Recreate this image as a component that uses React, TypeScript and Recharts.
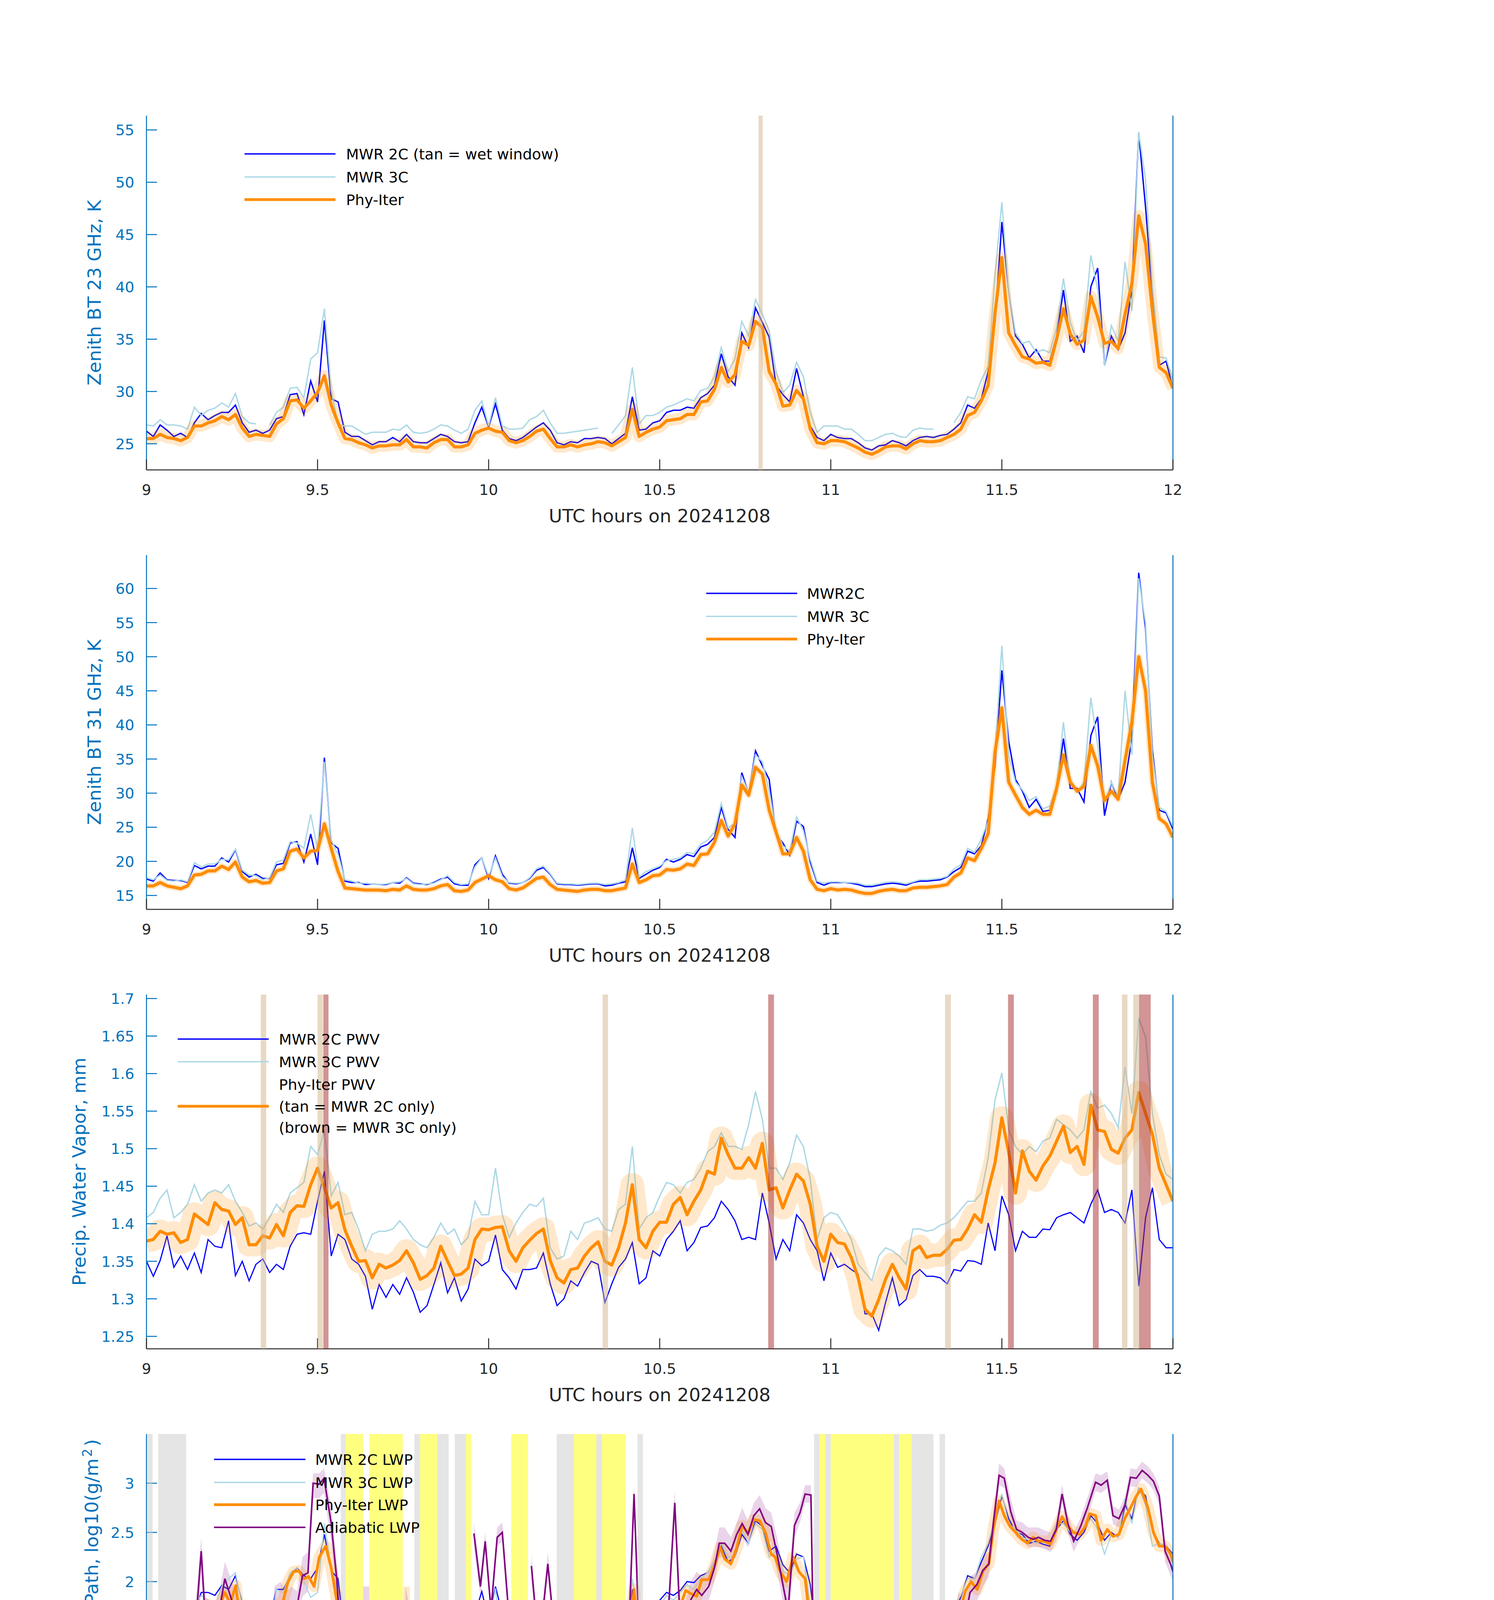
import React from 'react';
import {
  ComposedChart, Line, Area, Scatter, XAxis, YAxis, ReferenceArea, ReferenceLine, Legend,
} from 'recharts';

// ---------------- layout constants ----------------
const W = 3825;
const X0 = 375;
const X1 = 3003;
const MT = 40;
const PLOT_H = 907;
const MB = 160;
const CH = MT + PLOT_H + MB;
const AXIS_Y = MT + PLOT_H;
const PANEL_TOPS = [296, 1421, 2546, 3671, 4796];

const BLUE = '#0000FF';
const LIGHT = '#ADD8E6';
const ORANGE = '#FF8C00';
const PURPLE = '#800080';
const AXIS_BLUE = '#0072BD';
const DARK = '#262626';
const FONT = "'DejaVu Sans', sans-serif";

// ---------------- data ----------------
const X_TICKS = [9, 9.5, 10, 10.5, 11, 11.5, 12];
// 0.02 h sample grid, 9.00 .. 12.00
const TIME: number[] = Array.from({ length: 151 }, (_, i) => (900 + i * 2) / 100);

// Panel 1: zenith BT 23 GHz (K)
const BT23_2C = [
  26.2, 25.7, 26.8, 26.3, 25.7, 26.0, 25.6, 27.0, 27.9, 27.3,
  27.7, 28.0, 28.0, 28.7, 27.0, 26.1, 26.3, 26.0, 26.3, 27.4,
  27.6, 29.7, 29.8, 27.8, 31.0, 29.0, 36.8, 29.3, 29.0, 26.1,
  25.7, 25.7, 25.3, 24.9, 25.2, 25.2, 25.6, 25.2, 25.9, 25.2,
  25.1, 25.1, 25.5, 25.9, 25.7, 25.2, 25.1, 25.2, 27.0, 28.5,
  26.6, 28.8, 26.3, 25.5, 25.3, 25.6, 26.1, 26.6, 27.0, 26.3,
  25.1, 24.9, 25.2, 25.1, 25.5, 25.5, 25.6, 25.5, 25.0, 25.5,
  26.0, 29.5, 26.3, 26.4, 27.0, 27.2, 28.0, 28.2, 28.2, 28.5,
  28.4, 29.4, 29.8, 30.6, 33.6, 31.4, 30.6, 35.6, 34.2, 38.0,
  36.6, 35.2, 30.6, 29.7, 29.0, 32.2, 29.5, 26.7, 25.6, 25.3,
  25.9, 25.6, 25.5, 25.5, 25.1, 24.6, 24.4, 24.8, 24.9, 25.3,
  25.1, 24.8, 25.3, 25.6, 25.7, 25.6, 25.8, 25.9, 26.4, 27.0,
  28.7, 28.4, 29.3, 31.9, 36.6, 46.2, 39.5, 35.3, 34.5, 33.2,
  34.0, 32.9, 32.9, 35.3, 39.7, 34.8, 35.3, 33.7, 40.0, 41.8,
  32.5, 35.3, 34.0, 35.6, 39.7, 54.7, 47.6, 39.2, 32.5, 32.9,
  30.3,
];
const BT23_3C = [
  26.8, 26.7, 27.3, 26.8, 26.8, 26.7, 26.4, 28.5, 27.7, 28.2,
  28.4, 28.9, 28.5, 29.8, 27.6, 27.0, 26.9, null, 26.8, 28.0,
  28.5, 30.3, 30.4, 29.4, 33.1, 33.7, 37.9, 30.1, 26.8, 26.7,
  26.7, 26.3, 25.9, 26.1, 26.1, 26.1, 26.4, 26.3, 26.8, 26.1,
  26.0, 26.1, 26.4, 26.8, 26.7, 26.3, 26.0, 26.4, 28.2, 29.1,
  26.7, 29.4, 26.7, 26.4, 26.4, 26.5, 27.3, 27.6, 28.2, 27.0,
  26.0, 26.0, 26.1, 26.2, 26.3, 26.4, 26.5, null, 26.0, 26.8,
  27.7, 32.3, 26.9, 27.7, 27.7, 28.0, 28.5, 28.7, 29.0, 29.3,
  29.1, 30.1, 30.3, 31.4, 34.2, 31.9, 33.1, 36.7, 35.3, 38.8,
  37.4, 35.8, 31.9, 29.9, 30.6, 32.8, 31.4, 28.0, 26.1, 26.7,
  26.7, 26.7, 26.4, 26.4, 25.9, 25.3, 25.3, 25.6, 25.9, 26.0,
  25.7, 25.6, 26.3, 26.5, 26.4, 26.4, null, null, 27.0, 28.0,
  29.5, 29.3, 31.1, 32.4, 41.1, 48.1, 39.5, 35.6, 34.6, 34.8,
  33.7, 34.0, 33.7, 36.1, 40.8, 36.6, 34.8, 35.8, 43.0, 39.8,
  32.5, 36.3, 34.8, 42.4, 37.7, 54.8, 50.2, 40.0, 33.3, 33.2,
  31.1,
];
const BT23_PHY = [
  25.5, 25.5, 25.9, 25.6, 25.5, 25.3, 25.6, 26.7, 26.7, 27.0,
  27.2, 27.6, 27.3, 27.8, 26.5, 25.7, 25.9, 25.8, 25.7, 26.9,
  27.4, 29.1, 29.2, 28.4, 29.1, 29.9, 31.5, 28.7, 27.0, 25.5,
  25.4, 25.1, 24.9, 24.6, 24.8, 24.8, 24.9, 24.9, 25.4, 24.7,
  24.7, 24.6, 25.1, 25.4, 25.4, 24.7, 24.7, 24.9, 26.0, 26.3,
  26.5, 26.2, 26.1, 25.3, 25.1, 25.3, 25.7, 26.2, 26.4, 25.5,
  24.7, 24.7, 24.9, 24.7, 24.9, 25.0, 25.2, 25.1, 24.8, 25.2,
  25.6, 28.3, 25.7, 26.1, 26.4, 26.6, 27.2, 27.3, 27.4, 27.8,
  27.8, 29.0, 29.1, 30.2, 32.3, 30.9, 31.6, 34.8, 34.4, 36.7,
  36.1, 31.9, 30.7, 28.6, 28.7, 30.1, 29.3, 26.4, 25.1, 25.0,
  25.3, 25.3, 25.2, 24.9, 24.6, 24.2, 24.0, 24.3, 24.7, 24.8,
  24.8, 24.5, 25.0, 25.3, 25.2, 25.2, 25.3, 25.6, 25.9, 26.4,
  27.7, 28.0, 29.1, 30.6, 37.5, 42.8, 35.6, 34.4, 33.3, 33.1,
  32.7, 32.8, 32.5, 35.0, 37.9, 35.5, 34.5, 34.9, 39.1, 37.1,
  34.6, 34.8, 34.1, 37.4, 40.3, 46.8, 44.1, 37.7, 32.3, 31.8,
  30.3,
];

// Panel 2: zenith BT 31 GHz (K)
const BT31_2C = [
  17.4, 17.1, 18.3, 17.3, 17.2, 17.2, 16.9, 19.4, 18.9, 19.3,
  19.3, 20.5, 19.9, 21.7, 18.5, 17.7, 18.1, 17.5, 17.5, 19.5,
  19.7, 22.7, 22.9, 19.9, 24.0, 19.5, 35.2, 22.7, 21.9, 17.1,
  16.9, 16.9, 16.6, 16.7, 16.6, 16.6, 16.9, 16.8, 17.6, 16.8,
  16.7, 16.6, 16.9, 17.4, 17.7, 16.7, 16.5, 16.5, 19.5, 20.5,
  17.5, 20.8, 18.1, 16.8, 16.7, 16.9, 17.5, 18.7, 19.1, 18.1,
  16.7, 16.6, 16.6, 16.5, 16.6, 16.7, 16.7, 16.4, 16.5, 16.8,
  17.0, 22.0, 17.5, 18.1, 18.7, 19.1, 20.3, 19.9, 20.3, 21.0,
  20.7, 22.1, 22.5, 23.5, 27.9, 24.7, 23.5, 33.0, 29.9, 36.2,
  34.0, 32.0, 23.9, 22.7, 20.9, 25.9, 25.1, 19.9, 16.9, 16.5,
  16.9, 16.9, 16.9, 16.8, 16.6, 16.3, 16.3, 16.5, 16.7, 16.8,
  16.7, 16.5, 16.9, 17.1, 17.1, 17.2, 17.3, 17.7, 18.5, 19.1,
  21.5, 21.1, 22.3, 26.3, 34.0, 48.0, 37.6, 32.0, 30.3, 27.9,
  29.1, 27.3, 27.5, 30.7, 38.0, 30.7, 30.7, 28.7, 38.4, 41.2,
  26.7, 31.6, 29.1, 31.6, 38.0, 62.3, 54.1, 36.4, 27.5, 27.1,
  24.7,
];
const BT31_3C = [
  17.6, 17.3, 18.0, 17.2, 17.1, 17.3, 17.0, 19.8, 19.2, 19.6,
  19.6, 20.3, 20.2, 21.8, 18.7, 18.0, 17.9, 17.3, 17.6, 19.9,
  20.2, 22.9, 22.7, 21.9, 26.9, 21.8, 34.6, 23.1, 21.0, 17.3,
  17.1, 16.8, 16.8, 16.7, 16.6, 16.7, 16.9, 17.0, 17.5, 16.7,
  16.6, 16.7, 16.8, 17.3, 17.9, 16.9, 16.6, 16.7, 19.2, 20.5,
  17.8, 20.5, 17.8, 16.9, 16.8, 16.9, 17.6, 18.9, 19.3, 18.2,
  16.8, 16.7, 16.7, 16.6, 16.7, 16.8, 16.8, 16.6, 16.7, 16.9,
  17.3, 24.9, 17.7, 18.5, 18.9, 19.3, 20.1, 20.3, 20.5, 21.3,
  21.1, 22.5, 23.1, 24.3, 28.5, 24.9, 25.6, 32.4, 30.1, 35.6,
  34.6, 30.4, 24.5, 22.3, 21.5, 26.5, 24.5, 20.3, 17.1, 16.8,
  17.0, 17.0, 16.9, 16.9, 16.8, 16.5, 16.5, 16.7, 16.9, 17.0,
  16.9, 16.7, 17.0, 17.3, 17.3, 17.4, 17.5, 17.8, 18.9, 19.5,
  21.9, 21.3, 23.3, 25.9, 36.0, 51.6, 35.6, 31.6, 30.5, 28.9,
  29.5, 27.7, 28.1, 31.0, 40.4, 31.5, 30.1, 31.6, 44.0, 37.0,
  28.5, 31.6, 29.5, 45.0, 35.6, 61.5, 54.9, 35.6, 27.9, 27.3,
  25.1,
];
const BT31_PHY = [
  16.4, 16.4, 16.9, 16.4, 16.2, 16.0, 16.4, 18.0, 18.1, 18.6,
  18.6, 19.3, 18.8, 19.9, 17.7, 17.0, 17.2, 16.8, 16.9, 18.6,
  18.9, 21.5, 21.8, 20.5, 21.5, 21.6, 25.5, 21.9, 18.5, 16.1,
  16.0, 15.9, 15.8, 15.8, 15.8, 15.7, 15.9, 15.8, 16.4, 15.9,
  15.8, 15.8, 16.0, 16.4, 16.6, 15.7, 15.6, 15.8, 16.9, 17.4,
  17.9, 17.3, 17.0, 16.0, 15.8, 16.1, 16.8, 17.5, 17.7, 16.6,
  15.9, 15.8, 15.7, 15.6, 15.8, 15.9, 15.9, 15.7, 15.7, 15.9,
  16.1, 19.6, 16.9, 17.3, 17.9, 18.0, 18.8, 18.7, 18.9, 19.6,
  19.4, 21.0, 21.1, 22.8, 26.0, 23.7, 25.5, 31.2, 29.7, 33.8,
  32.8, 27.5, 24.3, 21.1, 21.1, 23.5, 21.5, 17.3, 15.9, 15.7,
  16.0, 15.8, 15.9, 15.8, 15.5, 15.3, 15.3, 15.6, 15.8, 15.9,
  15.7, 15.7, 16.1, 16.2, 16.2, 16.3, 16.4, 16.6, 17.7, 18.3,
  20.5, 20.1, 21.9, 24.1, 36.0, 42.5, 31.6, 29.7, 27.9, 26.9,
  27.5, 26.9, 26.9, 30.7, 35.6, 31.6, 30.3, 31.0, 37.0, 34.0,
  28.9, 30.3, 29.1, 34.8, 40.4, 50.0, 45.0, 31.6, 26.3, 25.5,
  23.5,
];

// Panel 3: precipitable water vapour (mm)
const PWV_2C = [
  1.350, 1.330, 1.351, 1.384, 1.342, 1.357, 1.339, 1.361, 1.335, 1.379,
  1.370, 1.368, 1.404, 1.331, 1.350, 1.324, 1.346, 1.353, 1.335, 1.346,
  1.339, 1.370, 1.386, 1.388, 1.386, 1.430, 1.470, 1.357, 1.386, 1.379,
  1.353, 1.346, 1.330, 1.286, 1.319, 1.302, 1.319, 1.306, 1.328, 1.309,
  1.282, 1.291, 1.319, 1.348, 1.308, 1.328, 1.297, 1.313, 1.353, 1.344,
  1.350, 1.385, 1.339, 1.328, 1.313, 1.339, 1.339, 1.341, 1.361, 1.320,
  1.291, 1.300, 1.324, 1.317, 1.335, 1.350, 1.346, 1.295, 1.320, 1.342,
  1.353, 1.375, 1.320, 1.328, 1.364, 1.357, 1.379, 1.390, 1.404, 1.364,
  1.375, 1.395, 1.397, 1.408, 1.430, 1.419, 1.404, 1.379, 1.382, 1.379,
  1.441, 1.401, 1.353, 1.379, 1.364, 1.412, 1.401, 1.379, 1.364, 1.324,
  1.361, 1.342, 1.346, 1.339, 1.333, 1.280, 1.280, 1.258, 1.295, 1.328,
  1.291, 1.299, 1.331, 1.339, 1.330, 1.330, 1.328, 1.320, 1.339, 1.337,
  1.351, 1.350, 1.346, 1.401, 1.364, 1.437, 1.412, 1.364, 1.390, 1.382,
  1.382, 1.393, 1.392, 1.408, 1.412, 1.415, 1.408, 1.401, 1.426, 1.445,
  1.415, 1.419, 1.415, 1.401, 1.445, 1.317, 1.408, 1.448, 1.379, 1.368,
  1.368,
];
const PWV_3C = [
  1.408, 1.415, 1.434, 1.445, 1.408, 1.415, 1.426, 1.452, 1.430, 1.441,
  1.445, 1.441, 1.452, 1.430, 1.415, 1.397, 1.401, 1.393, 1.408, 1.426,
  1.415, 1.441, 1.448, 1.455, 1.503, 1.492, 1.525, 1.437, 1.455, 1.412,
  1.415, 1.393, 1.364, 1.386, 1.390, 1.390, 1.393, 1.404, 1.393, 1.379,
  1.372, 1.368, 1.382, 1.401, 1.386, 1.393, 1.372, 1.382, 1.430, 1.412,
  1.412, 1.474, 1.412, 1.382, 1.401, 1.415, 1.426, 1.423, 1.434, 1.368,
  1.353, 1.357, 1.390, 1.379, 1.401, 1.404, 1.408, 1.393, 1.390, 1.419,
  1.426, 1.503, 1.393, 1.408, 1.415, 1.437, 1.455, 1.452, 1.441, 1.455,
  1.459, 1.474, 1.496, 1.503, 1.521, 1.503, 1.503, 1.499, 1.532, 1.576,
  1.539, 1.474, 1.474, 1.459, 1.481, 1.518, 1.503, 1.459, 1.379, 1.408,
  1.415, 1.412, 1.397, 1.379, 1.346, 1.335, 1.324, 1.357, 1.368, 1.364,
  1.357, 1.346, 1.393, 1.393, 1.390, 1.392, 1.398, 1.401, 1.408, 1.419,
  1.430, 1.430, 1.441, 1.488, 1.565, 1.601, 1.525, 1.503, 1.492, 1.503,
  1.496, 1.510, 1.514, 1.539, 1.532, 1.525, 1.514, 1.525, 1.576, 1.554,
  1.558, 1.547, 1.528, 1.609, 1.547, 1.674, 1.649, 1.547, 1.492, 1.466,
  1.459,
];
const PWV_PHY = [
  1.377, 1.379, 1.390, 1.386, 1.388, 1.375, 1.379, 1.413, 1.406, 1.399,
  1.428, 1.419, 1.417, 1.399, 1.408, 1.372, 1.372, 1.384, 1.381, 1.399,
  1.384, 1.415, 1.424, 1.423, 1.452, 1.474, 1.448, 1.421, 1.428, 1.392,
  1.370, 1.350, 1.351, 1.328, 1.346, 1.341, 1.345, 1.351, 1.364, 1.348,
  1.326, 1.331, 1.341, 1.370, 1.350, 1.331, 1.333, 1.341, 1.379, 1.393,
  1.392, 1.395, 1.396, 1.364, 1.350, 1.368, 1.378, 1.387, 1.393, 1.351,
  1.328, 1.321, 1.339, 1.341, 1.357, 1.368, 1.376, 1.350, 1.345, 1.368,
  1.401, 1.452, 1.379, 1.368, 1.390, 1.402, 1.402, 1.426, 1.435, 1.412,
  1.430, 1.445, 1.470, 1.466, 1.514, 1.492, 1.474, 1.474, 1.488, 1.474,
  1.507, 1.445, 1.448, 1.421, 1.445, 1.466, 1.457, 1.426, 1.370, 1.350,
  1.386, 1.375, 1.373, 1.355, 1.328, 1.286, 1.277, 1.299, 1.326, 1.346,
  1.328, 1.313, 1.364, 1.370, 1.355, 1.358, 1.358, 1.366, 1.378, 1.379,
  1.393, 1.412, 1.402, 1.445, 1.481, 1.541, 1.495, 1.441, 1.497, 1.470,
  1.458, 1.477, 1.490, 1.510, 1.530, 1.495, 1.503, 1.479, 1.558, 1.525,
  1.523, 1.499, 1.494, 1.514, 1.525, 1.575, 1.547, 1.519, 1.474, 1.452,
  1.430,
];

// Panel 4: log10 LWP
const LWP_2C = [
  1.61, 1.50, 1.75, 1.42, 1.50, 1.47, 1.32, 1.67, 1.89, 1.89,
  1.86, 1.96, 1.92, 2.06, 1.78, 1.67, 1.72, 1.60, 1.60, 1.92,
  1.92, 2.06, 2.14, 2.06, 2.03, 2.14, 2.48, 2.11, 2.03, 1.42,
  1.45, 1.50, 1.53, 1.47, 1.42, 1.46, 1.39, 1.46, 1.58, 1.45,
  1.47, 1.43, 1.47, 1.50, 1.64, 1.63, 1.47, 1.42, 1.67, 1.90,
  1.61, 1.95, 1.67, 1.47, 1.45, 1.42, 1.67, 1.78, 1.81, 1.61,
  1.42, 1.42, 1.40, 1.36, 1.42, 1.39, 1.39, 1.36, 1.43, 1.39,
  1.47, 1.92, 1.70, 1.72, 1.78, 1.81, 1.89, 1.86, 1.91, 2.00,
  1.99, 2.06, 2.09, 2.20, 2.36, 2.20, 2.25, 2.48, 2.39, 2.62,
  2.56, 2.31, 2.36, 2.17, 2.09, 2.28, 2.25, 1.97, 1.39, 1.42,
  1.46, 1.43, 1.46, 1.45, 1.45, 1.39, 1.33, 1.39, 1.47, 1.47,
  1.42, 1.39, 1.47, 1.50, 1.57, 1.50, 1.56, 1.65, 1.70, 1.84,
  2.06, 2.03, 2.20, 2.36, 2.59, 2.87, 2.64, 2.50, 2.48, 2.39,
  2.41, 2.38, 2.36, 2.53, 2.62, 2.48, 2.42, 2.50, 2.67, 2.59,
  2.42, 2.50, 2.45, 2.78, 2.64, 2.95, 2.87, 2.53, 2.39, 2.36,
  2.28,
];
const LWP_3C = [
  1.42, 1.31, 1.33, 1.28, 1.25, 1.19, 1.25, 1.75, 1.86, 1.81,
  1.75, 1.95, 2.03, 2.09, 1.75, 1.58, 1.47, 1.39, 1.47, 1.92,
  1.89, 2.09, 2.14, 2.00, 1.84, 1.89, 2.59, 2.14, 1.89, 1.17,
  1.17, 1.11, 1.08, 1.03, 1.06, 1.08, 1.08, 1.14, 1.19, 1.06,
  1.03, 1.06, 1.06, 1.17, 1.28, 1.19, 1.08, 1.08, 1.58, 1.78,
  1.53, 1.93, 1.25, 1.11, 1.08, 1.14, 1.67, 1.75, 1.78, 1.53,
  1.19, 1.11, 1.06, 1.06, 1.03, 1.06, 1.08, null, 0.94, 1.14,
  1.25, 2.03, 1.58, 1.64, 1.75, 1.75, 1.86, 1.81, 1.89, 1.97,
  1.92, 2.03, 2.09, 2.20, 2.39, 2.25, 2.25, 2.53, 2.39, 2.59,
  2.53, 2.25, 2.31, 2.11, 2.06, 2.23, 2.25, 1.75, 1.06, 1.03,
  1.14, 1.11, 1.14, 1.11, 1.06, 0.86, 0.89, 0.97, 1.06, 1.11,
  1.03, 1.14, 1.25, 1.28, 1.31, 1.33, 1.50, 1.64, 1.75, 1.86,
  2.03, 2.03, 2.25, 2.39, 2.64, 2.89, 2.59, 2.53, 2.45, 2.42,
  2.39, 2.42, 2.39, 2.59, 2.59, 2.50, 2.48, 2.53, 2.64, 2.53,
  2.28, 2.48, 2.45, 2.84, 2.59, 2.95, 2.78, 2.36, 2.39, 2.36,
  2.25,
];
// [time, value]; null = gap, -1 = drops below the axis
const LWP_PHY: [number, number | null][] = [
  [9.000, 0.89], [9.010, 0.78], [9.020, 0.81], [9.030, 0.86], [9.043, 1.25], [9.060, 1.03], [9.066, -1], [9.090, -1],
  [9.093, 0.69], [9.097, -1], [9.120, -1], [9.128, 1.11], [9.140, 1.58], [9.160, 1.61], [9.177, 1.77], [9.208, 1.71],
  [9.229, 1.89], [9.245, 1.78], [9.261, 1.96], [9.277, 1.53], [9.291, 1.47], [9.309, 1.08], [9.327, 1.45], [9.340, 1.14],
  [9.356, 1.17], [9.377, 1.75], [9.400, 1.81], [9.414, 2.00], [9.430, 2.10], [9.445, 2.11], [9.460, 2.03], [9.474, 2.05],
  [9.490, 1.95], [9.505, 2.25], [9.524, 2.36], [9.540, 2.14], [9.556, 1.81], [9.572, -1], [9.600, null],
  [9.757, 1.03], [9.767, -1], [9.800, null],
  [9.857, 0.72], [9.872, 1.31], [9.888, 1.17], [9.897, -1], [9.920, null],
  [9.957, 1.25], [9.978, 1.47], [9.990, 1.58], [10.008, -1], [10.016, -1], [10.025, 1.39], [10.040, 1.28], [10.048, -1], [10.080, null],
  [10.120, 1.28], [10.135, 1.42], [10.150, 1.56], [10.170, 1.39], [10.190, 1.08], [10.196, -1], [10.300, null],
  [10.404, -1], [10.406, 1.25], [10.425, 1.92], [10.440, 1.33], [10.460, 1.47], [10.476, 1.57], [10.493, 1.60], [10.510, 1.64],
  [10.525, 1.75], [10.544, 1.71], [10.560, 1.75], [10.576, 1.91], [10.590, 1.88], [10.608, 1.85], [10.623, 2.02], [10.643, 2.02],
  [10.660, 2.16], [10.677, 2.35], [10.690, 2.23], [10.708, 2.18], [10.725, 2.34], [10.741, 2.57], [10.758, 2.49], [10.775, 2.63],
  [10.792, 2.62], [10.809, 2.50], [10.826, 2.28], [10.837, 2.25], [10.854, 2.09], [10.871, 2.00], [10.890, 2.25], [10.907, 2.10],
  [10.925, 2.03], [10.942, 1.53], [10.956, -1], [11.100, null],
  [11.257, -1], [11.259, 0.50], [11.275, 0.86], [11.292, 0.78], [11.306, 0.94], [11.323, 1.08], [11.340, 1.28], [11.357, 1.47],
  [11.377, 1.70], [11.394, 1.91], [11.410, 2.00], [11.428, 1.92], [11.445, 2.11], [11.462, 2.18], [11.475, 2.53], [11.492, 2.82],
  [11.507, 2.67], [11.524, 2.56], [11.540, 2.50], [11.558, 2.43], [11.575, 2.39], [11.592, 2.45], [11.607, 2.41], [11.625, 2.41],
  [11.642, 2.38], [11.659, 2.53], [11.676, 2.66], [11.693, 2.56], [11.710, 2.50], [11.727, 2.48], [11.744, 2.56], [11.757, 2.69],
  [11.774, 2.67], [11.790, 2.42], [11.808, 2.53], [11.825, 2.46], [11.842, 2.48], [11.859, 2.64], [11.876, 2.75], [11.893, 2.87],
  [11.907, 2.94], [11.927, 2.75], [11.943, 2.50], [11.960, 2.36], [11.977, 2.36], [11.994, 2.28], [12.000, 2.20],
];
// [time, low, high] uncertainty of Phy-Iter LWP in clear-sky columns
const LWP_PHY_BAND: [number, number | null, number | null][] = [
  [9.000, -0.2, 1.30], [9.128, -0.2, 1.40], [9.135, null, null],
  [9.290, -0.2, 1.50], [9.356, -0.2, 1.40], [9.365, null, null],
  [9.556, 0.60, 1.90], [9.572, -0.2, 1.90], [9.590, null, null],
  [9.750, -0.2, 1.95], [9.770, -0.2, 1.95], [9.790, null, null],
  [9.855, -0.2, 1.45], [9.897, -0.2, 1.45], [9.910, null, null],
  [9.955, -0.2, 1.30], [10.048, -0.2, 1.30], [10.060, null, null],
  [10.118, -0.2, 1.40], [10.198, -0.2, 1.40], [10.210, null, null],
  [10.402, 0.20, 1.80], [10.410, 0.20, 1.80], [10.420, null, null],
  [10.945, -0.2, 1.55], [10.958, -0.2, 1.55], [10.970, null, null],
  [11.255, -0.2, 1.45], [11.330, -0.2, 1.60], [11.357, 0.60, 1.70], [11.380, 1.40, 1.85],
];
const LWP_ADI: [number, number | null][] = [
  [9.000, 1.19], [9.010, 1.07], [9.020, 1.25], [9.030, 1.33], [9.045, 1.40], [9.060, 1.40], [9.076, 1.08], [9.108, 1.08],
  [9.123, 1.19], [9.140, 1.50], [9.148, 1.75], [9.160, 2.31], [9.174, 1.50], [9.192, 1.58], [9.208, 1.61], [9.229, 2.03],
  [9.255, 1.75], [9.276, 1.58], [9.292, 1.53], [9.308, 1.28], [9.324, 1.42], [9.340, 1.22], [9.357, 1.15], [9.374, 1.74],
  [9.392, 1.79], [9.408, 1.72], [9.424, 1.78], [9.440, 1.75], [9.456, 2.06], [9.472, 2.09], [9.487, 3.00], [9.505, 2.99],
  [9.519, 3.05], [9.540, 2.59], [9.556, 2.03], [9.575, 1.08], [9.600, null],
  [9.757, 1.75], [9.793, 1.13], [9.820, null],
  [9.860, 1.47], [9.878, 1.49], [9.893, 1.43], [9.911, 1.08], [9.925, 1.09], [9.940, null],
  [9.957, 2.49], [9.976, 1.95], [9.990, 2.41], [10.007, 1.71], [10.025, 2.45], [10.040, 2.50], [10.057, 1.75], [10.090, null],
  [10.125, 2.16], [10.140, 1.58], [10.157, 1.64], [10.173, 2.18], [10.194, 1.42], [10.210, 1.10], [10.240, 1.10], [10.300, null],
  [10.409, 1.42], [10.425, 2.89], [10.440, 1.43], [10.456, 1.46], [10.474, 1.58], [10.493, 1.53], [10.510, 1.58], [10.525, 1.67],
  [10.544, 2.80], [10.560, 1.57], [10.576, 1.53], [10.590, 1.81], [10.608, 1.92], [10.623, 1.86], [10.643, 1.95], [10.660, 2.14],
  [10.674, 2.39], [10.690, 2.39], [10.708, 2.31], [10.725, 2.48], [10.741, 2.59], [10.758, 2.48], [10.775, 2.67], [10.792, 2.74],
  [10.809, 2.60], [10.826, 2.56], [10.843, 2.28], [10.860, 1.97], [10.875, 1.70], [10.894, 2.57], [10.910, 2.70], [10.925, 2.89],
  [10.942, 2.88], [10.950, 1.19], [10.958, 1.14], [11.100, null],
  [11.244, 1.08], [11.317, 1.08], [11.340, 1.14], [11.357, 1.36], [11.374, 1.70], [11.390, 1.57], [11.407, 1.89], [11.427, 1.97],
  [11.444, 2.11], [11.462, 2.18], [11.475, 2.59], [11.492, 3.08], [11.507, 3.05], [11.526, 2.71], [11.543, 2.53], [11.560, 2.50],
  [11.577, 2.45], [11.592, 2.43], [11.607, 2.45], [11.625, 2.42], [11.642, 2.41], [11.659, 2.53], [11.676, 2.89], [11.693, 2.59],
  [11.710, 2.41], [11.730, 2.56], [11.750, 2.75], [11.774, 3.01], [11.790, 2.98], [11.808, 3.03], [11.825, 2.67], [11.842, 2.64],
  [11.860, 2.78], [11.876, 3.06], [11.893, 3.05], [11.910, 3.13], [11.927, 3.08], [11.943, 3.02], [11.960, 2.87], [11.977, 2.31],
  [11.994, 2.17], [12.000, 2.10],
];
const LWP_ADI_BAND: [number, number | null, number | null][] = [
  [9.000, 0.50, 1.75], [9.010, 0.50, 1.75], [9.020, 0.50, 1.75], [9.030, 0.50, 1.80], [9.045, 0.50, 1.80], [9.060, 0.50, 1.70],
  [9.076, 0.47, 1.45], [9.108, 0.47, 1.45], [9.123, 0.60, 1.45], [9.140, 1.20, 1.70], [9.148, 1.50, 1.95], [9.160, 2.10, 2.45],
  [9.174, 1.30, 1.70], [9.192, 1.35, 1.75], [9.208, 1.40, 1.80], [9.229, 1.85, 2.20], [9.255, 1.55, 1.95], [9.276, 1.40, 1.80],
  [9.292, 1.20, 1.75], [9.308, 0.80, 1.55], [9.324, 0.90, 1.60], [9.340, 0.70, 1.50], [9.357, 0.60, 1.45], [9.374, 1.55, 1.95],
  [9.392, 1.60, 2.00], [9.408, 1.55, 1.90], [9.424, 1.60, 1.95], [9.440, 1.50, 1.90], [9.456, 1.85, 2.25], [9.472, 1.90, 2.30],
  [9.487, 2.85, 3.10], [9.505, 2.85, 3.10], [9.519, 2.90, 3.15], [9.540, 2.40, 2.75], [9.556, 1.85, 2.20], [9.575, 0.50, 1.60],
  [9.600, null, null],
  [9.633, 0.47, 1.95], [9.651, 0.47, 1.95], [9.700, null, null],
  [9.757, 1.00, 1.95], [9.793, 0.60, 1.30], [9.820, null, null],
  [9.860, 1.20, 1.75], [9.878, 1.25, 1.80], [9.893, 1.20, 1.75], [9.911, 0.50, 1.40], [9.925, 0.50, 1.40], [9.940, null, null],
  [9.957, 2.35, 2.60], [9.976, 1.85, 2.05], [9.990, 2.30, 2.50], [10.007, 1.62, 1.80], [10.025, 2.35, 2.55], [10.040, 2.42, 2.60],
  [10.057, 1.65, 1.85], [10.090, null, null],
  [10.125, 2.02, 2.28], [10.140, 1.50, 1.70], [10.157, 1.55, 1.72], [10.173, 2.08, 2.30], [10.194, 1.30, 1.50], [10.210, 0.50, 1.35],
  [10.240, 0.50, 1.35], [10.280, null, null],
  [10.315, 0.83, 1.78], [10.331, 0.83, 1.78], [10.360, null, null],
  [10.409, 1.00, 1.80], [10.425, 2.78, 2.97], [10.440, 0.85, 1.60], [10.456, 0.85, 1.62], [10.474, 1.30, 1.70], [10.493, 1.30, 1.70],
  [10.510, 1.30, 1.72], [10.525, 1.50, 1.85], [10.544, 2.68, 2.92], [10.560, 1.20, 1.75], [10.576, 1.25, 1.80], [10.590, 1.60, 2.00],
  [10.608, 1.70, 2.10], [10.623, 1.70, 2.05], [10.643, 1.80, 2.10], [10.660, 2.00, 2.30], [10.674, 2.25, 2.55], [10.690, 2.25, 2.55],
  [10.708, 2.15, 2.45], [10.725, 2.30, 2.60], [10.741, 2.45, 2.75], [10.758, 2.35, 2.62], [10.775, 2.55, 2.80], [10.792, 2.60, 2.88],
  [10.809, 2.45, 2.75], [10.826, 2.40, 2.70], [10.843, 2.10, 2.45], [10.860, 1.80, 2.15], [10.875, 1.45, 1.95], [10.894, 2.45, 2.70],
  [10.910, 2.60, 2.80], [10.925, 2.80, 2.98], [10.942, 2.80, 2.98], [10.950, 1.00, 1.30], [10.958, 0.50, 1.30], [10.970, null, null],
  [10.984, 0.55, 1.45], [11.000, 0.55, 1.45], [11.050, null, null],
  [11.184, 0.55, 1.25], [11.200, 0.55, 1.25], [11.220, null, null],
  [11.244, 0.48, 1.43], [11.317, 0.48, 1.43], [11.340, 0.60, 1.50], [11.357, 1.00, 1.60], [11.374, 1.40, 1.90], [11.390, 1.40, 1.75],
  [11.407, 1.70, 2.05], [11.427, 1.80, 2.10], [11.444, 1.95, 2.25], [11.462, 2.05, 2.30], [11.475, 2.45, 2.70], [11.492, 2.98, 3.20],
  [11.507, 2.95, 3.15], [11.526, 2.60, 2.85], [11.543, 2.45, 2.62], [11.560, 2.42, 2.60], [11.577, 2.35, 2.55], [11.592, 2.35, 2.55],
  [11.607, 2.35, 2.55], [11.625, 2.33, 2.52], [11.642, 2.30, 2.50], [11.659, 2.42, 2.62], [11.676, 2.80, 2.98], [11.693, 2.50, 2.68],
  [11.710, 2.30, 2.50], [11.730, 2.45, 2.65], [11.750, 2.65, 2.85], [11.774, 2.92, 3.10], [11.790, 2.90, 3.08], [11.808, 2.95, 3.12],
  [11.825, 2.58, 2.77], [11.842, 2.55, 2.73], [11.860, 2.68, 2.87], [11.876, 2.97, 3.15], [11.893, 2.96, 3.14], [11.910, 3.05, 3.22],
  [11.927, 3.00, 3.17], [11.943, 2.93, 3.10], [11.960, 2.78, 2.97], [11.977, 2.20, 2.42], [11.994, 2.05, 2.28], [12.000, 2.00, 2.23],
];
const LWP_ADI_POINTS: [number, number][] = [[9.640, 1.76], [10.324, 1.43], [10.992, 1.15], [11.190, 1.14]];

// Panel 5: DQ flag, one value per minute (9:00:30, 9:01:30, ...)
const DQ_FLAG = [
  4, 0, 4, 4, 4, 4, 4, 0, 0, 0,
  0, 0, 0, 0, 0, 0, 0, 0, 0, 0,
  0, 0, 0, 0, 6, 0, 0, 0, 0, 0,
  0, 0, 0, 0, 4, 5, 5, 5, 0, 5,
  5, 5, 5, 5, 5, 0, 0, 4, 5, 5,
  5, 4, 4, 0, 4, 4, 5, 0, 0, 0,
  0, 0, 0, 0, 5, 5, 5, 0, 0, 0,
  0, 0, 4, 4, 4, 5, 5, 5, 5, 4,
  5, 5, 5, 5, 0, 0, 4, 0, 0, 0,
  0, 0, 0, 0, 0, 0, 0, 0, 0, 0,
  0, 0, 0, 0, 0, 0, 0, 0, 0, 0,
  0, 0, 0, 0, 0, 0, 0, 4, 5, 4,
  5, 5, 5, 5, 5, 5, 5, 5, 5, 5,
  5, 4, 5, 5, 4, 4, 4, 4, 0, 4,
  0, 0, 0, 0, 0, 0, 0, 0, 0, 0,
  0, 0, 0, 6, 0, 0, 0, 0, 0, 0,
  0, 0, 0, 0, 0, 0, 0, 0, 0, 0,
  0, 0, 0, 6, 6, 6, 0, 0, 0, 0,
];

// Flag windows (start, end hour)
const WET_WINDOW_23 = [[10.789, 10.801]];
const PWV_TAN = [[9.334, 9.350], [9.500, 9.516], [10.333, 10.349], [11.334, 11.351], [11.851, 11.867], [11.884, 11.901]];
const PWV_BROWN = [[9.517, 9.532], [10.817, 10.834], [11.518, 11.535], [11.766, 11.783], [11.901, 11.935]];
const LWP_GREY = [[9.003, 9.018], [9.034, 9.116], [9.568, 9.582], [9.783, 9.800], [9.850, 9.883], [9.901, 9.934],
  [10.199, 10.249], [10.315, 10.331], [10.435, 10.451], [10.951, 10.967], [10.984, 11.000], [11.184, 11.200],
  [11.236, 11.300], [11.318, 11.334]];
const LWP_YELLOW = [[9.582, 9.633], [9.651, 9.749], [9.800, 9.850], [9.934, 9.949], [10.066, 10.115], [10.249, 10.315],
  [10.331, 10.401], [10.967, 10.984], [11.000, 11.184], [11.200, 11.236]];

// ---------------- derived chart data ----------------
const gridData = (b: any[], lb: any[], o?: any[]) =>
  TIME.map((t, i) => ({ t, b: b[i], lb: lb[i], o: o ? o[i] : undefined }));
const P1 = gridData(BT23_2C, BT23_3C, BT23_PHY);
const P2 = gridData(BT31_2C, BT31_3C, BT31_PHY);
const P3 = gridData(PWV_2C, PWV_3C, PWV_PHY);
const P4 = gridData(LWP_2C, LWP_3C);
const PHY4 = LWP_PHY.map(([t, v]) => ({ t, v }));
const PHY4_BAND = LWP_PHY_BAND.map(([t, lo, hi]) => ({ t, r: lo == null ? null : [lo, hi] }));
const ADI4 = LWP_ADI.map(([t, v]) => ({ t, v }));
const ADI4_BAND = LWP_ADI_BAND.map(([t, lo, hi]) => ({ t, r: lo == null ? null : [lo, hi] }));
const ADI4_PTS = LWP_ADI_POINTS.map(([t, v]) => ({ t, v }));
const FLAGS = DQ_FLAG.map((f, k) => ({ t: 9 + (k + 0.5) / 60, f }));
const OVERLAY_DATA = [{ t: 9 }, { t: 12 }];

// ---------------- rendering helpers ----------------
const XTick = (props: any) => {
  const { x, payload } = props;
  return (
    <g>
      <line x1={x} x2={x} y1={AXIS_Y} y2={AXIS_Y - 27} stroke={DARK} strokeWidth={2.5} />
      <text x={x} y={AXIS_Y + 64} textAnchor="middle" fontSize={38} fontFamily={FONT} fill={DARK}>
        {String(payload.value)}
      </text>
    </g>
  );
};
const YTick = (props: any) => {
  const { y, payload } = props;
  return (
    <g>
      <line x1={X0} x2={X0 + 27} y1={y} y2={y} stroke={AXIS_BLUE} strokeWidth={2.5} />
      <text x={344} y={y} dy="0.36em" textAnchor="end" fontSize={38} fontFamily={FONT} fill={AXIS_BLUE}>
        {String(payload.value)}
      </text>
    </g>
  );
};
const renderXLabel = () => (
  <text x={(X0 + X1) / 2} y={AXIS_Y + 134} textAnchor="middle" fontSize={47} fontFamily={FONT} fill={DARK}>
    UTC hours on 20241208
  </text>
);
const makeYLabel = (content: React.ReactNode, bx: number) => () => (
  <text transform={`translate(${bx},${MT + PLOT_H / 2}) rotate(-90)`} textAnchor="middle"
    fontSize={47} fontFamily={FONT} fill={AXIS_BLUE}>
    {content}
  </text>
);

type LegendRow = { y: number; text: string; color?: string; w?: number };
type LegendCfg = { x1: number; x2: number; tx: number; rows: LegendRow[] };
const makeLegend = (cfg: LegendCfg) => () => (
  <svg width={W} height={CH} style={{ display: 'block' }}>
    {cfg.rows.map((r, i) => (
      <g key={i}>
        {r.color ? (
          <line x1={cfg.x1} x2={cfg.x2} y1={MT + r.y} y2={MT + r.y} stroke={r.color} strokeWidth={r.w} />
        ) : null}
        <text x={cfg.tx} y={MT + r.y} dy="0.36em" fontSize={38} fontFamily={FONT} fill="#000">{r.text}</text>
      </g>
    ))}
  </svg>
);

type BandSet = { spans: number[][]; fill: string };

function Panel(props: {
  index: number;
  domain: [number, number];
  yticks: number[];
  ylabel: React.ReactNode;
  ylabelX: number;
  data: any[];
  series: React.ReactNode[];
  bands?: BandSet[];
  legend?: LegendCfg;
}) {
  const { index, domain, yticks, ylabel, ylabelX, data, series, bands, legend } = props;
  return (
    <div style={{ position: 'absolute', left: 0, top: PANEL_TOPS[index] - MT, width: W, height: CH }}>
      <div style={{ position: 'absolute', left: 0, top: 0 }}>
        <ComposedChart width={W} height={CH} data={data} margin={{ top: MT, right: W - X1, bottom: 0, left: 0 }}>
          <XAxis dataKey="t" type="number" domain={[9, 12]} ticks={X_TICKS} interval={0} allowDataOverflow
            height={MB} tick={XTick} tickLine={false} axisLine={{ stroke: DARK, strokeWidth: 2.5 }}
            label={renderXLabel} />
          <YAxis type="number" domain={domain} ticks={yticks} interval={0} allowDataOverflow width={X0}
            tick={YTick} tickLine={false} axisLine={{ stroke: AXIS_BLUE, strokeWidth: 2.5 }}
            label={makeYLabel(ylabel, ylabelX)} />
          {series}
          <ReferenceLine x={12} stroke={AXIS_BLUE} strokeWidth={2.5} />
        </ComposedChart>
      </div>
      {(bands || legend) ? (
        <div style={{ position: 'absolute', left: 0, top: 0 }}>
          <ComposedChart width={W} height={CH} data={OVERLAY_DATA}
            margin={{ top: MT, right: W - X1, bottom: MB, left: X0 }}>
            <XAxis dataKey="t" type="number" domain={[9, 12]} allowDataOverflow hide />
            <YAxis type="number" domain={domain} allowDataOverflow hide />
            {(bands || []).flatMap((bs, j) =>
              bs.spans.map((s, k) => (
                <ReferenceArea key={`b${j}-${k}`} x1={s[0]} x2={s[1]} fill={bs.fill} fillOpacity={0.5}
                  stroke="none" />
              )),
            )}
            <Line dataKey="none" stroke="none" dot={false} activeDot={false} isAnimationActive={false} />
            {legend ? (
              <Legend content={makeLegend(legend)} layout="vertical" align="center" verticalAlign="middle"
                wrapperStyle={{ left: 0, top: 0, width: W, height: CH }} />
            ) : null}
          </ComposedChart>
        </div>
      ) : null}
    </div>
  );
}

const lineBase = { type: 'linear' as const, dot: false, activeDot: false, isAnimationActive: false };

const seriesTriple = (bandWidth: number, blueW: number) => [
  <Line key="b" dataKey="b" stroke={BLUE} strokeWidth={blueW} {...lineBase} />,
  <Line key="lb" dataKey="lb" stroke={LIGHT} strokeWidth={3.5} {...lineBase} />,
  <Line key="band" dataKey="o" stroke={ORANGE} strokeOpacity={0.2} strokeWidth={bandWidth}
    strokeLinejoin="round" {...lineBase} />,
  <Line key="o" dataKey="o" stroke={ORANGE} strokeWidth={8} strokeLinejoin="round" {...lineBase} />,
];

const XMark = (p: any) => (
  <g stroke={PURPLE} strokeWidth={5}>
    <line x1={p.cx - 9} y1={p.cy - 9} x2={p.cx + 9} y2={p.cy + 9} />
    <line x1={p.cx - 9} y1={p.cy + 9} x2={p.cx + 9} y2={p.cy - 9} />
  </g>
);
const FlagDot = (p: any) => <circle cx={p.cx} cy={p.cy} r={4.5} fill={ORANGE} />;

export default function App() {
  return (
    <div style={{ position: 'relative', width: W, height: 6000, background: '#fff', overflow: 'hidden' }}>
      <style>{'html,body{margin:0;padding:0;background:#fff;}'}</style>

      <Panel
        index={0}
        domain={[22.5, 56.37]}
        yticks={[25, 30, 35, 40, 45, 50, 55]}
        ylabel="Zenith BT 23 GHz, K"
        ylabelX={258}
        data={P1}
        series={seriesTriple(30, 3.5)}
        bands={[{ spans: WET_WINDOW_23, fill: '#D2B48C' }]}
        legend={{
          x1: 626, x2: 859, tx: 886,
          rows: [
            { y: 98, text: 'MWR 2C (tan = wet window)', color: BLUE, w: 3.5 },
            { y: 157, text: 'MWR 3C', color: LIGHT, w: 3.5 },
            { y: 215, text: 'Phy-Iter', color: ORANGE, w: 7 },
          ],
        }}
      />

      <Panel
        index={1}
        domain={[12.96, 64.9]}
        yticks={[15, 20, 25, 30, 35, 40, 45, 50, 55, 60]}
        ylabel="Zenith BT 31 GHz, K"
        ylabelX={258}
        data={P2}
        series={seriesTriple(16, 3.5)}
        legend={{
          x1: 1808, x2: 2041, tx: 2066,
          rows: [
            { y: 98, text: 'MWR2C', color: BLUE, w: 3.5 },
            { y: 157, text: 'MWR 3C', color: LIGHT, w: 3.5 },
            { y: 215, text: 'Phy-Iter', color: ORANGE, w: 7 },
          ],
        }}
      />

      <Panel
        index={2}
        domain={[1.2334, 1.7053]}
        yticks={[1.25, 1.3, 1.35, 1.4, 1.45, 1.5, 1.55, 1.6, 1.65, 1.7]}
        ylabel="Precip. Water Vapor, mm"
        ylabelX={219}
        data={P3}
        series={seriesTriple(60, 3)}
        bands={[{ spans: PWV_TAN, fill: '#D2B48C' }, { spans: PWV_BROWN, fill: '#A52A2A' }]}
        legend={{
          x1: 455, x2: 688, tx: 714,
          rows: [
            { y: 114, text: 'MWR 2C PWV', color: BLUE, w: 3.5 },
            { y: 172, text: 'MWR 3C PWV', color: LIGHT, w: 3.5 },
            { y: 230, text: 'Phy-Iter PWV' },
            { y: 286, text: '(tan = MWR 2C only)', color: ORANGE, w: 7 },
            { y: 340, text: '(brown = MWR 3C only)' },
          ],
        }}
      />

      <Panel
        index={3}
        domain={[-0.1, 3.5]}
        yticks={[0, 0.5, 1, 1.5, 2, 2.5, 3]}
        ylabel={[
          'log10 Liquid Water Path, log10(g/m',
          <tspan key="s" dx={4} dy={-16} fontSize={33}>2</tspan>,
          <tspan key="p" dx={6} dy={16}>)</tspan>,
        ]}
        ylabelX={251}
        data={P4}
        series={[
          <Line key="b" dataKey="b" stroke={BLUE} strokeWidth={3} {...lineBase} />,
          <Line key="lb" dataKey="lb" stroke={LIGHT} strokeWidth={3} {...lineBase} />,
          <Area key="ob" data={PHY4_BAND} dataKey="r" type="linear" stroke="none" fill={ORANGE}
            fillOpacity={0.2} isAnimationActive={false} dot={false} activeDot={false} />,
          <Line key="obs" data={PHY4} dataKey="v" stroke={ORANGE} strokeOpacity={0.2} strokeWidth={30}
            strokeLinejoin="round" {...lineBase} />,
          <Line key="o" data={PHY4} dataKey="v" stroke={ORANGE} strokeWidth={7} strokeLinejoin="round" {...lineBase} />,
          <Area key="pb" data={ADI4_BAND} dataKey="r" type="linear" stroke="none" fill={PURPLE}
            fillOpacity={0.17} isAnimationActive={false} dot={false} activeDot={false} />,
          <Line key="p" data={ADI4} dataKey="v" stroke={PURPLE} strokeWidth={4} {...lineBase} />,
          <Scatter key="px" data={ADI4_PTS} dataKey="v" shape={XMark} isAnimationActive={false} />,
        ]}
        bands={[{ spans: LWP_GREY, fill: '#CCCCCC' }, { spans: LWP_YELLOW, fill: '#FFFF00' }]}
        legend={{
          x1: 548, x2: 782, tx: 807,
          rows: [
            { y: 65, text: 'MWR 2C LWP', color: BLUE, w: 3.5 },
            { y: 124, text: 'MWR 3C LWP', color: LIGHT, w: 3.5 },
            { y: 181, text: 'Phy-Iter LWP', color: ORANGE, w: 7 },
            { y: 239, text: 'Adiabatic LWP', color: PURPLE, w: 4 },
          ],
        }}
      />

      <Panel
        index={4}
        domain={[-0.5, 11.5]}
        yticks={[0, 2, 4, 6, 8, 10]}
        ylabel="MWR Phy Iter DQ Flag"
        ylabelX={258}
        data={[]}
        series={[
          <Scatter key="f" data={FLAGS} dataKey="f" shape={FlagDot} isAnimationActive={false} />,
        ]}
      />
    </div>
  );
}
